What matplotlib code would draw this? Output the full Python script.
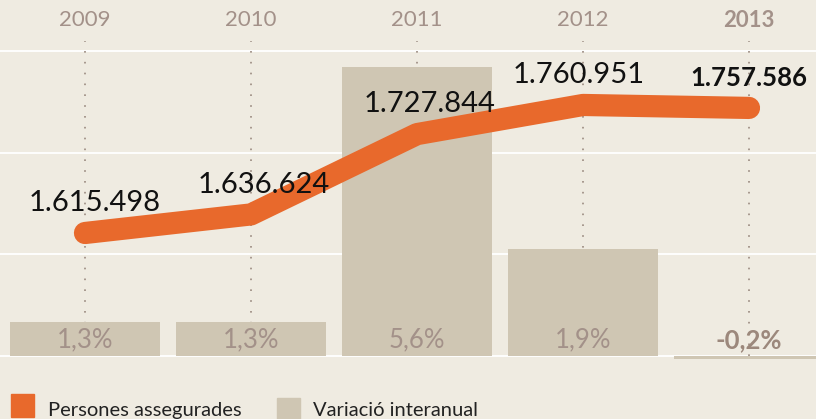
import matplotlib
matplotlib.use("Agg")
import matplotlib.pyplot as plt
from matplotlib.patches import Rectangle

years = ["2009", "2010", "2011", "2012", "2013"]
insured = [1615498, 1636624, 1727844, 1760951, 1757586]
insured_labels = ["1.615.498", "1.636.624", "1.727.844", "1.760.951", "1.757.586"]
variation_labels = ["1,3%", "1,3%", "5,6%", "1,9%", "-0,2%"]
# bar heights as drawn in the source graphic (not proportional to the labels)
bar_heights = [0.334, 0.334, 2.84, 1.05, -0.03]

BG = "#EFEBE1"
BAR = "#CFC6B3"
ORANGE = "#E8692C"
YEARC = "#A39189"

plt.rcParams["font.family"] = ["Lato", "DejaVu Sans"]

fig = plt.figure(figsize=(8.16, 4.19), dpi=100)
fig.patch.set_facecolor(BG)
ax = fig.add_axes([0, 49 / 419, 1, 340 / 419])
ax.set_facecolor(BG)
x = list(range(len(years)))
ax.set_xlim(-85 / 166, 731 / 166)
ax.set_ylim(-0.138, 3.205)

for g in [0, 1, 2, 3]:
    ax.axhline(g, color="white", lw=1.3, zorder=0)
ax.vlines(x, 0, 3.1, colors="#9A8A80", lw=1.2, linestyles=(0, (1, 5.5)), zorder=0.5)
ax.bar(x, bar_heights, width=0.898, color=BAR, zorder=1)

for i, lab in enumerate(variation_labels):
    last = i == len(years) - 1
    ax.text(i, 0.16, lab, ha="center", va="center", fontsize=18.5,
            color="#9C887C" if last else YEARC,
            fontweight="bold" if last else "normal", zorder=3)
    ax.text(i, 1.029, years[i], transform=ax.get_xaxis_transform(), ha="center",
            va="center", fontsize=16, color=YEARC,
            fontweight="bold" if last else "normal")

for s in ax.spines.values():
    s.set_visible(False)
ax.set_xticks([])
ax.set_yticks([])

ax2 = ax.twinx()
ax2.set_ylim(1459866, 1846106)
ax2.plot(x, insured, color=ORANGE, lw=16, solid_capstyle="round",
         solid_joinstyle="round", zorder=2)
dx = [10, 13, 13, -4, 0]
for i, lab in enumerate(insured_labels):
    last = i == len(years) - 1
    ax2.annotate(lab, (i, insured[i]), xytext=(dx[i] * 0.72, 21.5),
                 textcoords="offset points", ha="center", va="center",
                 fontsize=18.5 if last else 21, color="#111111",
                 fontweight="bold" if last else "normal")
for s in ax2.spines.values():
    s.set_visible(False)
ax2.set_yticks([])

# legend
fig.add_artist(Rectangle((11 / 816, 2 / 419), 23 / 816, 23 / 419,
                         transform=fig.transFigure, color=ORANGE))
fig.add_artist(Rectangle((277 / 816, -2 / 419), 23 / 816, 23 / 419,
                         transform=fig.transFigure, color=BAR))
fig.text(48 / 816, 3 / 419, "Persones assegurades", fontsize=14.5,
         color="#222222", va="baseline")
fig.text(313 / 816, 3 / 419, "Variació interanual", fontsize=14.5,
         color="#222222", va="baseline")

fig.savefig("out.png", dpi=100, facecolor=BG)
